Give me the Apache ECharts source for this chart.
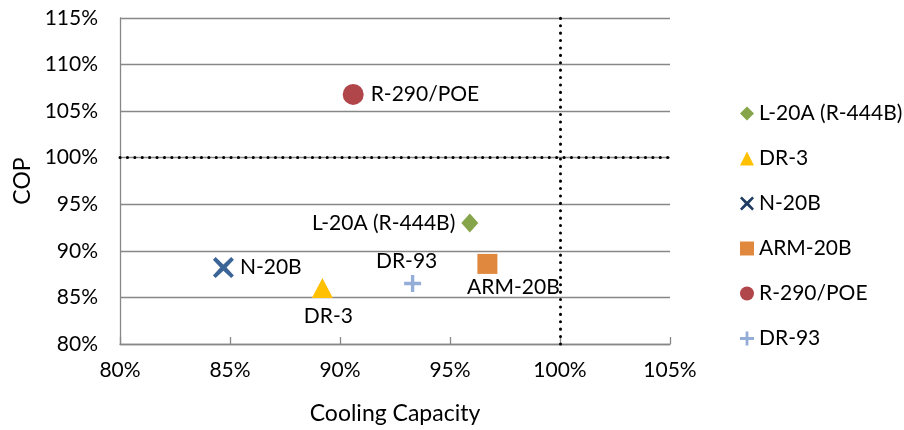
<!DOCTYPE html>
<html><head><meta charset="utf-8">
<script src="https://cdn.jsdelivr.net/npm/echarts@6/dist/echarts.min.js"></script>
<style>html,body{margin:0;padding:0;background:#fff}#c{width:904px;height:430px}</style>
</head><body><div id="c"></div>
<script>
const seriesNames = ['L-20A (R-444B)', 'DR-3', 'N-20B', 'ARM-20B', 'R-290/POE', 'DR-93'];
const capacity = [95.9, 89.2, 84.7, 96.7, 90.6, 93.3];
const cop = [93.0, 86.0, 88.2, 88.6, 106.8, 86.5];
const xTicks = [80, 85, 90, 95, 100, 105];
const yTicks = [80, 85, 90, 95, 100, 105, 110, 115];
const refX = 100, refY = 100;

const FONT = 'Lato';
const colors = ['#86a44a', '#ffc000', '#3b6596', '#e0883e', '#b0454a', '#95aed8'];
const legendColors = ['#86a44a', '#ffc000', '#1f3b63', '#e0883e', '#b0454a', '#95aed8'];
const X_PATH = 'path://M1.3,0 L5,3.5 L8.7,0 L10,1.3 L6.5,5 L10,8.7 L8.7,10 L5,6.5 L1.3,10 L0,8.7 L3.5,5 L0,1.3 Z';
const PLUS_PATH = 'path://M4,0 H6 V4 H10 V6 H6 V10 H4 V6 H0 V4 H4 Z';
const symbols = ['diamond', 'triangle', X_PATH, 'rect', 'circle', PLUS_PATH];
const sizes = [[17,19], [21,20], 21, 20, 21, 17];
const labelCfg = [
  {position: 'left', distance: 6},
  {position: 'bottom', distance: 8, offset: [6, 0]},
  {position: 'right', distance: 6},
  {position: 'bottom', distance: 3, offset: [26, 0]},
  {position: 'right', distance: 7},
  {position: 'top', distance: 3, offset: [-6, 0]}
];

const series = seriesNames.map((n, i) => ({
  name: n,
  type: 'scatter',
  symbol: symbols[i],
  symbolSize: sizes[i],
  itemStyle: {color: colors[i], opacity: 1},
  label: Object.assign({show: true, formatter: n, color: '#000', fontFamily: FONT, fontSize: 21}, labelCfg[i]),
  data: [[capacity[i], cop[i]]],
  z: 3
}));
series.push({
  type: 'line', data: [], silent: true,
  markLine: {
    silent: true, symbol: 'none', animation: false,
    label: {show: false},
    lineStyle: {color: '#000', width: 3, type: [0.1, 7.3], cap: 'round'},
    data: [{yAxis: refY}, {xAxis: refX}]
  }
});

const chart = echarts.init(document.getElementById('c'));
chart.setOption({
  animation: false,
  grid: {left: 120, right: 234, top: 18, bottom: 86},
  xAxis: {
    type: 'value', min: 80, max: 105, interval: 5,
    name: 'Cooling Capacity', nameLocation: 'middle', nameGap: 58,
    nameTextStyle: {fontFamily: FONT, fontSize: 23, color: '#000'},
    axisLine: {show: true, lineStyle: {color: '#878787', width: 1.3}},
    axisTick: {show: true, inside: true, length: 7, lineStyle: {color: '#878787', width: 1.3}},
    axisLabel: {formatter: '{value}%', fontFamily: FONT, fontSize: 21, color: '#000', margin: 16},
    splitLine: {show: false}
  },
  yAxis: {
    type: 'value', min: 80, max: 115, interval: 5,
    name: 'COP', nameLocation: 'middle', nameGap: 86, nameRotate: 90,
    nameTextStyle: {fontFamily: FONT, fontSize: 23, color: '#000'},
    axisLine: {show: true, lineStyle: {color: '#878787', width: 1.3}},
    axisTick: {show: false},
    axisLabel: {formatter: '{value}%', fontFamily: FONT, fontSize: 21, color: '#000', margin: 22},
    splitLine: {show: true, lineStyle: {color: '#878787', width: 1.3}}
  },
  legend: {
    orient: 'vertical', left: 735, top: 98,
    itemWidth: 14, itemHeight: 14, itemGap: 24,
    textStyle: {fontFamily: FONT, fontSize: 21, color: '#000', lineHeight: 20},
    data: seriesNames.map((n, i) => ({name: n, itemStyle: {color: legendColors[i]}}))
  },
  series: series
});
</script></body></html>
